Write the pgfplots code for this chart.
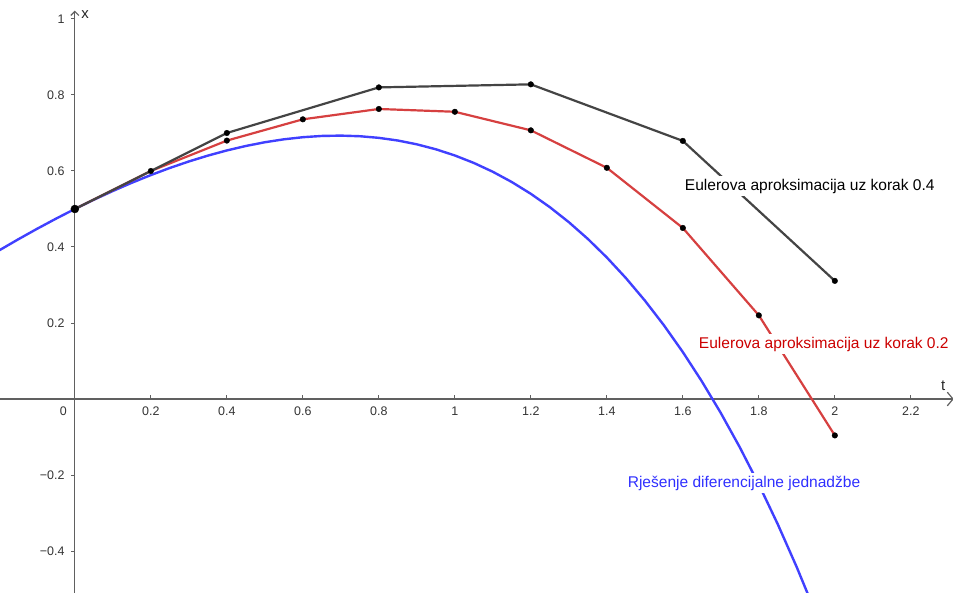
\documentclass[border=0pt]{standalone}
\usepackage{pgfplots}
\pgfplotsset{compat=1.18}
\usetikzlibrary{arrows.meta}
\usepackage{fontspec}
\setmainfont{Liberation Sans}
\definecolor{ggred}{RGB}{214,64,64}
\definecolor{ggredtxt}{RGB}{204,0,0}
\definecolor{ggblue}{RGB}{64,64,255}
\definecolor{ggbluetxt}{RGB}{48,48,255}
\definecolor{gggray}{RGB}{68,68,68}
\definecolor{axgray}{RGB}{96,96,96}
\begin{document}
\begin{tikzpicture}
\begin{axis}[
  scale only axis, width=953bp, height=593bp,
  xmin=-0.197, xmax=2.311, ymin=-0.5105, ymax=1.05,
  axis lines=none,
  clip=true,
]
% axes
\draw[axgray, line width=1.2bp] (axis cs:-0.197,0) -- (axis cs:2.311,0);
\draw[axgray, line width=1.2bp, -{Straight Barb[length=4bp,width=8bp]}] (axis cs:0,-0.5105) -- (axis cs:0,1.022);
\draw[axgray, line width=1.2bp] (axis cs:2.296,0.018) -- (axis cs:2.311,0);
\draw[axgray, line width=1.2bp] (axis cs:2.296,-0.018) -- (axis cs:2.311,0);
% x ticks
\pgfplotsinvokeforeach{0.2,0.4,0.6,0.8,1,1.2,1.4,1.6,1.8,2,2.2}{
  \draw[axgray, line width=1bp] (axis cs:#1,0) -- (axis cs:#1,0.011);
  \node[font=\fontsize{12.5}{14}\selectfont, text=black!80, anchor=north] at (axis cs:#1,-0.011) {#1};
}
\pgfplotsinvokeforeach{0.2,0.4,0.6,0.8,1}{
  \draw[axgray, line width=1bp] (axis cs:0,#1) -- (axis cs:-0.011,#1);
  \node[font=\fontsize{12.5}{14}\selectfont, text=black!80, anchor=east] at (axis cs:-0.018,#1) {#1};
}
\pgfplotsinvokeforeach{0.2,0.4}{
  \draw[axgray, line width=1bp] (axis cs:0,-#1) -- (axis cs:-0.011,-#1);
  \node[font=\fontsize{12.5}{14}\selectfont, text=black!80, anchor=east] at (axis cs:-0.018,-#1) {−#1};
}
\node[font=\fontsize{12.5}{14}\selectfont, text=black!80, anchor=north east] at (axis cs:-0.012,-0.011) {0};
\node[font=\fontsize{15}{17}\selectfont, text=black!85, anchor=west] at (axis cs:0.008,1.012) {x};
\node[font=\fontsize{15}{17}\selectfont, text=black!85] at (axis cs:2.285,0.035) {t};

% exact solution
\addplot[ggblue, line width=2.4bp] coordinates {
(-0.2,0.390630) (-0.15,0.419646) (-0.1,0.447581) (-0.05,0.474385) (0,0.5)
(0.05,0.524364) (0.1,0.547415) (0.15,0.569083) (0.2,0.589299) (0.25,0.607987)
(0.3,0.625071) (0.35,0.640466) (0.4,0.654088) (0.45,0.665844) (0.5,0.675639)
(0.55,0.683373) (0.6,0.688941) (0.65,0.692229) (0.7,0.693124) (0.75,0.691500)
(0.8,0.687230) (0.85,0.680176) (0.9,0.670198) (0.95,0.657145) (1.0,0.640859)
(1.05,0.621174) (1.1,0.597917) (1.15,0.570903) (1.2,0.539942) (1.25,0.504828)
(1.3,0.465352) (1.35,0.421287) (1.4,0.372400) (1.45,0.318442) (1.5,0.259155)
(1.55,0.194265) (1.6,0.123484) (1.65,0.046510) (1.7,-0.036973) (1.75,-0.127302)
(1.8,-0.224824) (1.85,-0.329910) (1.9,-0.442947) (1.95,-0.564344) (2.0,-0.694528)
};
% Euler h=0.2
\addplot[ggred, line width=2.2bp] coordinates {
(0,0.5) (0.2,0.6) (0.4,0.68) (0.6,0.736) (0.8,0.7632) (1.0,0.75584) (1.2,0.70701)
(1.4,0.60841) (1.6,0.45009) (1.8,0.22011) (2.0,-0.09587)
};
% Euler h=0.4
\addplot[gggray, line width=2.2bp] coordinates {
(0,0.5) (0.4,0.7) (0.8,0.82) (1.2,0.828) (1.6,0.6792) (2.0,0.31088)
};
\coordinate (lblk) at (axis cs:1.934,0.5605);
\coordinate (lred) at (axis cs:1.971,0.1447);
\coordinate (lblu) at (axis cs:1.761,-0.221);
\coordinate (bbsw) at (rel axis cs:0,0);
\coordinate (bbne) at (rel axis cs:1,1);
\end{axis}
% labels with white background
\node[fill=white, inner sep=2.5bp, font=\fontsize{15.6}{17}\selectfont, text=black] at (lblk) {Eulerova aproksimacija uz korak 0.4};
\node[fill=white, inner sep=2.5bp, font=\fontsize{15.6}{17}\selectfont, text=ggredtxt] at (lred) {Eulerova aproksimacija uz korak 0.2};
\node[fill=white, inner sep=2.5bp, font=\fontsize{15.6}{17}\selectfont, text=ggbluetxt] at (lblu) {Rješenje diferencijalne jednadžbe};
\begin{axis}[
  scale only axis, width=953bp, height=593bp,
  xmin=-0.197, xmax=2.311, ymin=-0.5105, ymax=1.05,
  axis lines=none, clip=true,
]
% points
\addplot[only marks, mark=*, mark size=2.8bp, black] coordinates {
(0.2,0.6) (0.4,0.68) (0.6,0.736) (0.8,0.7632) (1.0,0.75584) (1.2,0.70701)
(1.4,0.60841) (1.6,0.45009) (1.8,0.22011) (2.0,-0.09587)
(0.4,0.7) (0.8,0.82) (1.2,0.828) (1.6,0.6792) (2.0,0.31088)
};
\addplot[only marks, mark=*, mark size=4bp, black] coordinates {(0,0.5)};
\end{axis}
\pgfresetboundingbox
\useasboundingbox (bbsw) rectangle (bbne);
\end{tikzpicture}
\end{document}
